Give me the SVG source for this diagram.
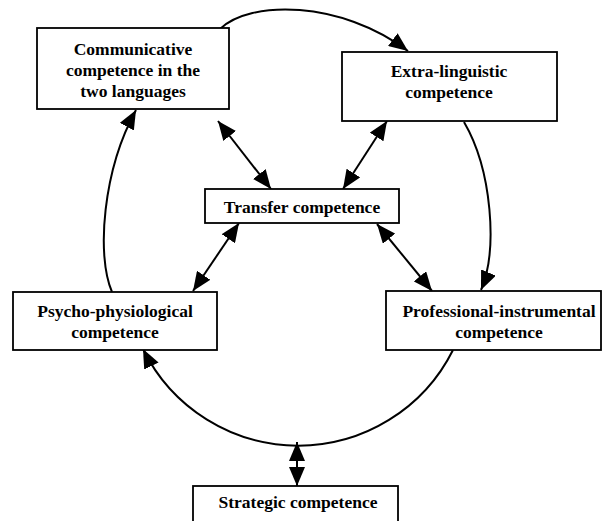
<svg xmlns="http://www.w3.org/2000/svg" width="602" height="521" viewBox="0 0 602 521">
  <style>
    .box { fill: #fff; stroke: #000; stroke-width: 1.8; }
    .lbl { font-size: 17.5px; font-weight: bold; fill: #000; text-anchor: middle; }
    .arc { fill: none; stroke: #000; stroke-width: 2; }
    .dbl { fill: none; stroke: #000; stroke-width: 2; }
  </style>
  <defs>
    <marker id="head" markerUnits="userSpaceOnUse" markerWidth="20" markerHeight="16" viewBox="0 0 20 16" refX="19" refY="8" orient="auto-start-reverse">
      <path d="M0,0 L19,8 L0,16 z" fill="#000"/>
    </marker>
  </defs>
  <rect width="602" height="521" fill="#fff"/>

  <!-- connectors -->
  <g id="connectors">
    <!-- outer cycle -->
    <path class="arc" d="M220,29 C250,0 340,0 408,51" marker-end="url(#head)"/>
    <path class="arc" d="M464,122 C492,170 498,250 481,290" marker-end="url(#head)"/>
    <path class="arc" d="M453,350 A173,173 0 0 1 143,349" marker-end="url(#head)"/>
    <path class="arc" d="M112,292 C96,255 103,170 136,110" marker-end="url(#head)"/>
    <!-- links to transfer competence -->
    <line class="dbl" x1="218" y1="121" x2="271" y2="189" marker-start="url(#head)" marker-end="url(#head)"/>
    <line class="dbl" x1="387" y1="121" x2="343" y2="189" marker-start="url(#head)" marker-end="url(#head)"/>
    <line class="dbl" x1="239" y1="223" x2="193" y2="291" marker-start="url(#head)" marker-end="url(#head)"/>
    <line class="dbl" x1="377" y1="224" x2="432" y2="291" marker-start="url(#head)" marker-end="url(#head)"/>
    <!-- strategic link -->
    <line class="dbl" x1="297" y1="442" x2="297" y2="486" marker-start="url(#head)" marker-end="url(#head)"/>
  </g>

  <g font-family="Liberation Serif, Times New Roman, serif">
    <g id="communicative">
      <rect class="box" x="37" y="28" width="192" height="81"/>
      <text class="lbl" x="133" y="55">Communicative</text>
      <text class="lbl" x="133" y="76">competence in the</text>
      <text class="lbl" x="133" y="97">two languages</text>
    </g>

    <g id="extralinguistic">
      <rect class="box" x="342" y="52" width="215" height="69"/>
      <text class="lbl" x="449" y="77">Extra-linguistic</text>
      <text class="lbl" x="449" y="98">competence</text>
    </g>

    <g id="transfer">
      <rect class="box" x="205" y="189" width="194" height="34"/>
      <text class="lbl" x="302" y="213">Transfer competence</text>
    </g>

    <g id="psychophysiological">
      <rect class="box" x="13" y="292" width="204" height="58"/>
      <text class="lbl" x="115" y="317">Psycho-physiological</text>
      <text class="lbl" x="115" y="338">competence</text>
    </g>

    <g id="professional">
      <rect class="box" x="386" y="291" width="215" height="59"/>
      <text class="lbl" x="499" y="317">Professional-instrumental</text>
      <text class="lbl" x="499" y="338">competence</text>
    </g>

    <g id="strategic">
      <rect class="box" x="193" y="486" width="205" height="45"/>
      <text class="lbl" x="298" y="508">Strategic competence</text>
    </g>
  </g>
</svg>
